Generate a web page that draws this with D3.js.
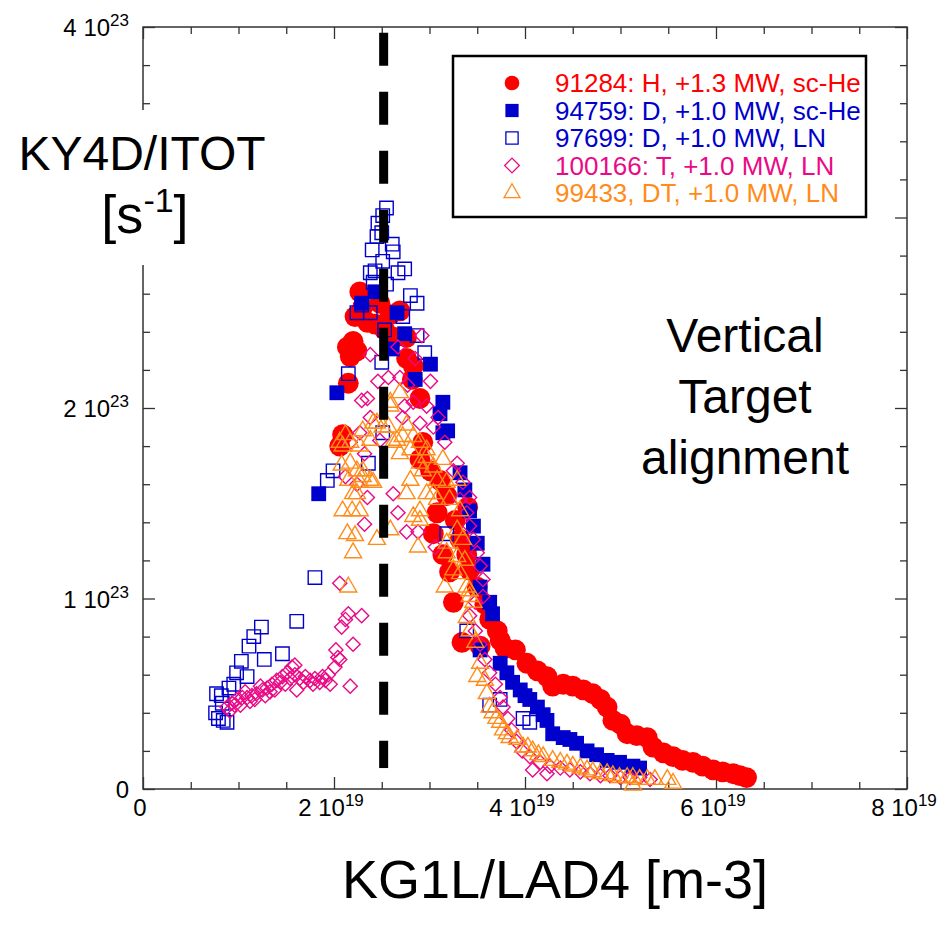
<!DOCTYPE html>
<html><head><meta charset="utf-8">
<script src="https://cdn.jsdelivr.net/npm/d3@7"></script>
<style>
body{margin:0;background:#fff}
svg{display:block}
text{font-family:"Liberation Sans",Arial,Helvetica,sans-serif}
</style>
</head><body>
<svg id="c" width="942" height="932"></svg>
<script>
// ---------- DATA (x in 1e19 m-3, y in 1e23 s-1) ----------
const xTickValues = [0, 2, 4, 6, 8];        // labelled x ticks (x 10^19)
const xExponent = "19";
const yTickValues = [0, 1, 2, 4];           // labelled y ticks (x 10^23)
const yExponent = "23";
const seriesNames = ["91284: H, +1.3 MW, sc-He", "94759: D, +1.0 MW, sc-He", "97699: D, +1.0 MW, LN", "100166: T, +1.0 MW, LN", "99433, DT, +1.0 MW, LN"];
const targetLine = [[2.52, 0.11], [2.52, 3.97]];

const s91284 = [
[2.27,2.61],[2.30,2.53],[2.22,2.48],[2.35,2.45],[2.48,2.55],[2.59,2.49],[2.69,2.51],[2.53,2.41],[2.64,2.37],[2.76,2.37],
[2.43,2.44],[2.14,2.32],[2.20,2.35],[2.24,2.30],[2.17,2.27],[2.15,2.13],[2.76,2.26],[2.83,2.22],[2.82,2.15],[2.90,2.05],
[2.09,1.86],[2.06,1.80],[2.93,1.82],[2.90,1.73],[3.01,1.67],[3.08,1.45],[3.04,1.34],[3.40,1.48],[3.14,1.23],[3.21,1.14],
[3.25,0.98],[3.11,1.62],[3.18,1.54],[3.27,1.41],[3.32,1.31],[3.39,1.23],[3.42,1.15],[3.50,1.06],[3.58,0.97],[3.63,0.89],
[3.34,0.77],[3.53,0.75],[3.71,0.83],[3.74,0.78],[3.79,0.74],[3.90,0.73],[4.02,0.66],[4.13,0.62],[4.23,0.59],[4.29,0.54],
[4.40,0.55],[4.50,0.54],[4.61,0.52],[4.71,0.50],[4.79,0.47],[4.86,0.43],[4.92,0.36],[5.00,0.34],[5.07,0.29],[5.17,0.28],
[5.28,0.27],[5.34,0.22],[5.45,0.19],[5.55,0.17],[5.65,0.15],[5.76,0.14],[5.86,0.12],[5.97,0.10],[6.07,0.09],[6.18,0.08],
[6.25,0.07],[6.32,0.06]
];
const s94759 = [
[2.29,2.55],[2.43,2.61],[2.66,2.50],[2.74,2.39],[2.61,2.31],[3.01,2.23],[2.85,2.15],[2.03,2.08],[3.14,2.03],[3.11,1.97],
[3.19,1.88],[1.84,1.55],[3.14,1.87],[3.32,1.66],[3.37,1.57],[3.42,1.46],[3.46,1.38],[3.50,1.29],[3.56,1.18],[3.53,1.06],
[3.63,0.98],[3.66,0.92],[3.53,0.73],[3.74,0.66],[3.81,0.61],[3.87,0.56],[3.95,0.52],[4.00,0.49],[4.05,0.47],[4.13,0.43],
[4.19,0.39],[4.23,0.36],[4.29,0.29],[4.40,0.27],[4.47,0.26],[4.54,0.24],[4.65,0.20],[4.75,0.18],[4.86,0.15],[4.99,0.14],
[5.13,0.12],[5.20,0.11]
];
const s97699 = [
[2.55,3.05],[2.51,3.01],[2.46,2.97],[2.50,2.92],[2.45,2.90],[2.40,2.83],[2.61,2.86],[2.62,2.82],[2.51,2.77],[2.43,2.72],
[2.38,2.71],[2.67,2.71],[2.74,2.73],[2.41,2.66],[2.55,2.65],[2.80,2.59],[2.87,2.55],[2.29,2.54],[2.24,2.50],[2.38,2.50],
[2.72,2.48],[2.53,2.41],[2.87,2.38],[2.95,2.29],[2.50,2.24],[2.15,2.18],[2.51,1.87],[1.99,1.67],[1.93,1.62],[2.36,1.71],
[3.18,1.34],[1.80,1.11],[1.61,0.88],[1.24,0.85],[1.16,0.80],[1.11,0.75],[1.46,0.71],[1.27,0.68],[1.03,0.67],[1.09,0.59],
[0.98,0.61],[0.95,0.55],[0.90,0.53],[0.82,0.49],[0.77,0.50],[0.83,0.45],[0.76,0.40],[0.79,0.37],[0.84,0.36],[0.88,0.35],
[3.39,0.83],[3.63,0.44],[3.74,0.47],[3.98,0.37],[4.05,0.35]
];
const s100166 = [
[0.88,0.43],[0.93,0.45],[0.98,0.47],[1.04,0.48],[1.09,0.48],[1.14,0.49],[1.19,0.50],[1.25,0.52],[1.30,0.53],[1.35,0.55],
[1.40,0.57],[1.46,0.59],[1.51,0.61],[1.56,0.64],[1.59,0.60],[1.64,0.58],[1.70,0.59],[1.75,0.57],[1.80,0.58],[1.85,0.56],
[1.91,0.57],[1.96,0.55],[1.61,0.52],[1.59,0.65],[2.01,0.64],[2.04,0.69],[2.02,0.73],[2.06,0.68],[2.08,0.85],[2.12,0.89],
[2.15,0.92],[2.29,0.91],[2.20,0.76],[2.17,0.54],[2.06,1.08],[0.91,0.41],[1.02,0.44],[1.17,0.47],[1.28,0.49],[1.38,0.52],
[1.49,0.55],[1.07,0.51],[1.23,0.54],[0.96,0.44],[1.12,0.46],[1.33,0.51],[1.44,0.56],[1.54,0.58],[1.68,0.56],[1.78,0.55],
[1.88,0.59],[1.94,0.60],
[2.92,2.38],[2.38,2.28],[2.67,2.32],[2.46,2.14],[2.57,2.16],[2.69,2.16],[2.77,2.12],[3.01,2.14],[2.85,2.26],[2.29,2.04],
[2.35,2.05],[2.38,1.95],[2.74,2.01],[2.83,2.03],[2.97,2.01],[3.09,1.95],[3.04,1.90],[3.16,1.82],[2.27,1.87],[2.48,1.83],
[2.17,1.82],[2.32,1.76],[2.72,1.95],[2.90,1.92],[3.25,1.67],[3.29,1.71],[3.35,1.61],[3.42,1.53],[2.62,1.55],[2.35,1.53],
[2.67,1.45],[2.32,1.39],[2.76,1.35],[2.88,1.35],[3.06,1.27],[2.12,1.64],[2.24,1.60],[3.32,1.52],[3.39,1.45],[3.42,1.38],
[3.46,1.31],[3.50,1.24],[3.53,1.17],[3.56,1.10],[3.56,1.01],[3.48,0.98],
[3.42,0.91],[3.48,0.83],[3.53,0.76],[3.58,0.68],[3.63,0.61],[3.69,0.55],[3.74,0.48],[3.77,0.43],[3.82,0.37],[3.86,0.31],
[3.91,0.25],[3.97,0.20],[4.05,0.17],[4.16,0.14],[4.26,0.12],[4.37,0.11],[4.47,0.10],[4.58,0.09],[4.68,0.08],[4.79,0.07],
[4.89,0.07],[5.00,0.06],[5.10,0.06],[5.20,0.06],[5.31,0.05],[4.08,0.10],[4.23,0.08]
];
const s99433 = [
[2.09,1.80],[2.12,1.86],[2.17,1.82],[2.06,1.82],[2.27,1.80],[2.17,1.71],[2.30,1.67],[2.08,1.70],[2.24,1.67],[2.15,1.62],
[2.30,1.64],[2.38,1.62],[2.27,1.61],[2.41,1.61],[2.20,1.55],[2.24,1.55],[2.09,1.46],[2.19,1.46],[2.27,1.46],[2.14,1.34],
[2.22,1.33],[2.20,1.24],[2.45,1.31],[2.59,1.36],[2.15,1.06],[2.38,1.83],[2.30,1.88],[2.41,1.92],[2.51,1.90],[2.62,1.82],
[2.59,2.01],[2.69,2.08],[2.59,2.03],[2.45,1.92],[2.57,1.90],[2.76,1.91],[2.83,1.85],[2.90,1.82],[2.66,1.83],[2.72,1.85],
[2.69,1.76],[2.80,1.78],[2.80,1.62],[2.76,1.55],[2.90,1.71],[2.90,1.46],[2.83,1.43],[2.90,1.41],[2.88,1.27],[2.97,1.78],
[2.93,1.67],[3.04,1.69],[3.08,1.62],[3.04,1.55],[3.18,1.61],[3.21,1.52],[3.32,1.46],[3.29,1.36],[3.18,1.29],[3.35,1.31],
[3.37,1.20],[3.16,1.06],[3.39,1.06],[2.97,1.74],[2.97,1.55],[3.08,1.52],[3.29,1.62],[3.14,1.73],[3.18,1.24],[3.29,1.22],
[3.32,1.13],[3.25,1.15],[3.42,1.01],[3.46,0.98],[3.42,1.04],[3.39,0.90],[3.42,0.83],[3.48,0.77],[3.53,0.66],[3.50,0.59],
[3.58,0.57],[3.60,0.50],[3.63,0.43],[3.66,0.40],[3.70,0.37],[3.74,0.35],[3.77,0.31],[3.81,0.29],[3.84,0.27],[3.92,0.26],
[3.98,0.22],[4.03,0.22],[4.08,0.20],[4.14,0.18],[4.19,0.17],[4.29,0.15],[4.37,0.14],[4.44,0.13],[4.50,0.12],[4.58,0.11],
[4.65,0.10],[4.71,0.09],[4.79,0.08],[4.86,0.08],[4.92,0.07],[4.99,0.06],[5.07,0.06],[5.13,0.06],[5.20,0.05],[5.28,0.05],
[5.36,0.05],[5.49,0.05],[5.55,0.03],[5.13,0.02]
];

// ---------- STYLE ----------
const colors = ["#ff0000", "#0000cc", "#0000cc", "#ea0a86", "#ff8c1a"];
const svg = d3.select("#c");
const x = d3.scaleLinear().domain([0, 8]).range([143, 907]);
const y = d3.scaleLinear().domain([0, 4]).range([789, 27]);

const sym = [
  {type: d3.symbolCircle, size: 340, fill: true, rot: 0, lsize: 170},
  {type: d3.symbolSquare, size: 220, fill: true, rot: 0, lsize: 175},
  {type: d3.symbolSquare, size: 180, fill: false, rot: 0, lsize: 150},
  {type: d3.symbolSquare, size: 100, fill: false, rot: 45, lsize: 110},
  {type: d3.symbolTriangle, size: 125, fill: false, rot: 0, lsize: 110}
];
const allSeries = [s91284, s94759, s97699, s100166, s99433];

// frame
const gAx = svg.append("g");
gAx.append("rect").attr("x", x(0)).attr("y", y(4)).attr("width", x(8) - x(0)).attr("height", y(0) - y(4))
  .attr("fill", "none").attr("stroke", "#333").attr("stroke-width", 1.5);

const xMinor = d3.range(0, 8.01, 0.5).filter(v => !xTickValues.includes(v));
const yMinor = d3.range(0, 4.01, 0.2).map(v => +v.toFixed(1)).filter(v => ![0,1,2,3,4].includes(v));
function ax(axisFn, scale, vals, size, tr) {
  const g = gAx.append("g").attr("transform", tr)
    .call(axisFn(scale).tickValues(vals).tickSize(size).tickFormat(""));
  g.select(".domain").remove();
  g.selectAll("line").attr("stroke", "#333").attr("stroke-width", 1.3);
}
ax(d3.axisBottom, x, xMinor, -7, `translate(0,${y(0)})`);
ax(d3.axisBottom, x, xTickValues, -12, `translate(0,${y(0)})`);
ax(d3.axisTop, x, xMinor, -7, `translate(0,${y(4)})`);
ax(d3.axisTop, x, xTickValues, -12, `translate(0,${y(4)})`);
ax(d3.axisLeft, y, yMinor, -7, `translate(${x(0)},0)`);
ax(d3.axisLeft, y, [0,1,2,3,4], -12, `translate(${x(0)},0)`);
ax(d3.axisRight, y, yMinor, -7, `translate(${x(8)},0)`);
ax(d3.axisRight, y, [0,1,2,3,4], -12, `translate(${x(8)},0)`);

// tick labels
const fs = 24;
xTickValues.forEach(v => {
  const t = svg.append("text").attr("x", x(v) - 3).attr("y", y(0) + 27).attr("text-anchor", "middle")
    .attr("font-size", fs).attr("fill", "#000");
  if (v === 0) { t.text("0"); return; }
  t.append("tspan").text(v + " 10");
  t.append("tspan").attr("font-size", 17).attr("dy", -10).text(xExponent);
});
yTickValues.forEach(v => {
  const t = svg.append("text").attr("x", x(0) - 14).attr("y", y(v) + 9).attr("text-anchor", "end")
    .attr("font-size", fs).attr("fill", "#000");
  if (v === 0) { t.text("0"); return; }
  t.append("tspan").text(v + " 10");
  t.append("tspan").attr("font-size", 17).attr("dy", -10).text(yExponent);
});

// data points
const gPts = svg.append("g");
allSeries.forEach((data, i) => {
  const s = sym[i];
  const path = d3.symbol().type(s.type).size(s.size)();
  gPts.append("g").selectAll("path").data(data).join("path")
    .attr("d", path)
    .attr("transform", d => `translate(${x(d[0])},${y(d[1])}) rotate(${s.rot})`)
    .attr("fill", s.fill ? colors[i] : "none")
    .attr("stroke", s.fill ? "none" : colors[i])
    .attr("stroke-width", 1.4);
});

// vertical target line
svg.append("line")
  .attr("x1", x(targetLine[1][0])).attr("y1", y(targetLine[1][1]))
  .attr("x2", x(targetLine[0][0])).attr("y2", y(targetLine[0][1]))
  .attr("stroke", "#000").attr("stroke-width", 9).attr("stroke-dasharray", "33,26");

// y title with white backing
svg.append("rect").attr("x", 0).attr("y", 110).attr("width", 275).attr("height", 155).attr("fill", "#fff");
svg.append("text").attr("x", 142).attr("y", 170).attr("text-anchor", "middle").attr("font-size", 48).text("KY4D/ITOT");
const st = svg.append("text").attr("x", 145).attr("y", 233).attr("text-anchor", "middle").attr("font-size", 54);
st.append("tspan").text("[s");
st.append("tspan").attr("font-size", 34).attr("dy", -21).text("-1");
st.append("tspan").attr("dy", 21).text("]");

// x title
svg.append("text").attr("x", 555).attr("y", 898).attr("text-anchor", "middle").attr("font-size", 54).text("KG1L/LAD4 [m-3]");

// annotation
["Vertical", "Target", "alignment"].forEach((s, i) => {
  svg.append("text").attr("x", 745).attr("y", 352 + i * 61).attr("text-anchor", "middle").attr("font-size", 48).text(s);
});

// legend
const lg = svg.append("g");
lg.append("rect").attr("x", 453).attr("y", 56).attr("width", 413).attr("height", 161)
  .attr("fill", "#fff").attr("stroke", "#000").attr("stroke-width", 2.5);
seriesNames.forEach((name, i) => {
  const cy = 83 + i * 27.5;
  const s = sym[i];
  lg.append("path").attr("d", d3.symbol().type(s.type).size(s.lsize)())
    .attr("transform", `translate(512,${cy}) rotate(${s.rot})`)
    .attr("fill", s.fill ? colors[i] : "none")
    .attr("stroke", s.fill ? "none" : colors[i]).attr("stroke-width", 1.3);
  lg.append("text").attr("x", 555).attr("y", cy + 9).attr("font-size", 26).attr("fill", colors[i]).text(name);
});
</script>
</body></html>
